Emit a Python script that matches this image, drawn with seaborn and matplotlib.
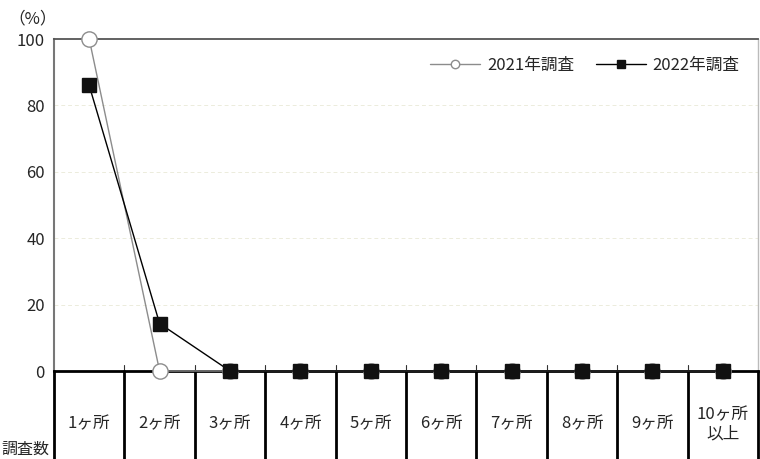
import matplotlib
matplotlib.use("Agg")
import matplotlib.pyplot as plt
import matplotlib.transforms as mtransforms
import seaborn as sns
import pandas as pd

sns.set_theme(style="white")
plt.rcParams['font.family'] = ['Noto Sans CJK JP', 'DejaVu Sans']

categories = ["1ヶ所", "2ヶ所", "3ヶ所", "4ヶ所", "5ヶ所", "6ヶ所", "7ヶ所", "8ヶ所", "9ヶ所", "10ヶ所\n以上"]
values_2021 = [100, 0, 0, 0, 0, 0, 0, 0, 0, 0]
values_2022 = [86, 14.3, 0, 0, 0, 0, 0, 0, 0, 0]
series_names = ["2021年調査", "2022年調査"]
yticks = [0, 20, 40, 60, 80, 100]

W, H = 760, 459
fig = plt.figure(figsize=(W / 100, H / 100), dpi=100)
ax = fig.add_axes([54 / W, 88 / H, (758 - 54) / W, (371 - 39) / H])

pos = list(range(len(categories)))
df21 = pd.DataFrame({"x": pos, "y": values_2021})
df22 = pd.DataFrame({"x": pos, "y": values_2022})

sns.lineplot(data=df21, x="x", y="y", ax=ax, color="#8c8c8c", lw=1.0,
             marker="o", markersize=11, markerfacecolor="white",
             markeredgecolor="#8c8c8c", markeredgewidth=1.0,
             label=series_names[0], clip_on=False, zorder=4)
sns.lineplot(data=df22, x="x", y="y", ax=ax, color="black", lw=1.0,
             marker="s", markersize=10, markerfacecolor="#111111",
             markeredgecolor="#111111", markeredgewidth=1.0,
             label=series_names[1], clip_on=False, zorder=5)

ax.set_xlim(-0.5, len(categories) - 0.5)
ax.set_ylim(0, 100)
ax.set_yticks(yticks)
ax.set_yticklabels([str(v) for v in yticks], fontsize=12)
ax.tick_params(axis="y", length=0, pad=6.5)
ax.set_xticks([])
ax.set_xlabel("")
ax.set_ylabel("")

for v in yticks[1:-1]:
    ax.axhline(v, color="#ececdc", lw=0.7, ls=(0, (4, 3)), zorder=0)

ax.spines["top"].set_color("#555555")
ax.spines["top"].set_linewidth(1.3)
ax.spines["left"].set_color("#777777")
ax.spines["left"].set_linewidth(1.5)
ax.spines["right"].set_color("#bbbbbb")
ax.spines["right"].set_linewidth(1.0)
ax.spines["bottom"].set_color("black")
ax.spines["bottom"].set_linewidth(2.0)
ax.spines["bottom"].set_zorder(3)

# table below the axis
trans = mtransforms.blended_transform_factory(ax.transData, ax.transAxes)
bottom_frac = -(88 / (371 - 39)) - 0.05
for b in [i - 0.5 for i in range(len(categories) + 1)]:
    ax.plot([b, b], [0, bottom_frac], transform=trans, color="black",
            lw=2.0, clip_on=False, zorder=3)
for b in [i + 0.5 for i in range(len(categories) - 1)]:
    ax.plot([b, b], [0, 0.018], transform=trans, color="#333333",
            lw=0.8, clip_on=False, zorder=3)
for i, c in enumerate(categories):
    ax.text(i, -0.16, c, transform=trans, ha="center", va="center",
            fontsize=12, linespacing=1.2)

fig.text(8 / W, 1 - 19 / H, "（%）", fontsize=12, ha="left", va="center")
fig.text(1 / W, 1 - 449 / H, "調査数", fontsize=11.5, ha="left", va="center")

leg = ax.legend(loc="upper right", ncol=2, frameon=False, fontsize=12,
                handlelength=3.0, markerscale=0.55, columnspacing=1.3,
                handletextpad=0.4, bbox_to_anchor=(0.995, 0.99))

fig.savefig("out.png", dpi=100)
